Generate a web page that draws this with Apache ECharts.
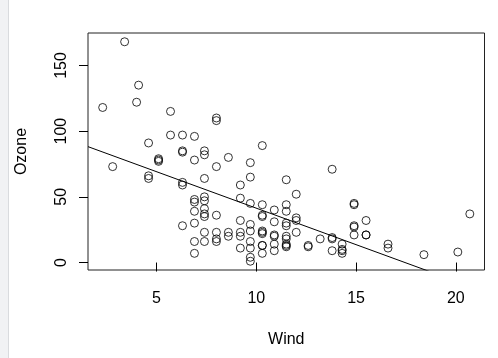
<!DOCTYPE html>
<html>
<head>
<meta charset="utf-8">
<script src="https://cdn.jsdelivr.net/npm/echarts@6/dist/echarts.min.js"></script>
<style>
html,body{margin:0;padding:0;background:#fff;}
#c{width:498px;height:358px;}
</style>
</head>
<body>
<div id="c"></div>
<script>
// airquality: complete Ozone rows, Wind (mph) and Ozone (ppb)
const wind = [7.4,8.0,12.6,11.5,14.9,8.6,13.8,20.1,6.9,9.7,9.2,10.9,13.2,11.5,12.0,18.4,11.5,9.7,9.7,16.6,9.7,12.0,12.0,14.9,5.7,7.4,9.7,13.8,11.5,8.0,14.9,20.7,9.2,11.5,10.3,4.1,9.2,9.2,4.6,10.9,5.1,6.3,5.7,7.4,14.3,14.9,14.3,6.9,10.3,6.3,5.1,11.5,6.9,8.6,8.0,8.6,12.0,7.4,7.4,7.4,9.2,6.9,13.8,7.4,6.9,7.4,4.6,4.0,10.3,8.0,11.5,11.5,9.7,10.3,6.3,7.4,10.9,10.3,15.5,14.3,9.7,3.4,8.0,9.7,2.3,6.3,6.3,6.9,5.1,2.8,4.6,7.4,15.5,10.9,10.3,10.9,9.7,14.9,15.5,6.3,10.9,11.5,6.9,13.8,10.3,10.3,8.0,12.6,9.2,10.3,10.3,16.6,6.9,14.3,8.0,11.5];
const ozone = [41,36,12,18,28,23,19,8,7,16,11,14,18,14,34,6,30,11,1,11,4,32,23,45,115,37,29,71,39,23,21,37,20,12,13,135,49,32,64,40,77,97,97,85,10,27,7,48,35,61,79,63,16,80,108,20,52,82,50,64,59,39,9,16,78,35,66,122,89,110,44,28,65,22,59,23,31,44,21,9,45,168,73,76,118,84,85,96,78,73,91,47,32,20,23,21,24,44,21,28,9,13,46,18,13,24,16,13,23,36,7,14,30,14,18,20];
const xTicks = [5,10,15,20];
const yTicks = [0,50,100,150];
const xTitle = "Wind";
const yTitle = "Ozone";

// R-style axis ranges (data range extended by 4%)
function rRange(a){const mn=Math.min(...a),mx=Math.max(...a),d=(mx-mn)*0.04;return [mn-d,mx+d];}
const xr = rRange(wind), yr = rRange(ozone);

// least squares fit Ozone ~ Wind
const n = wind.length;
const mx = wind.reduce((s,v)=>s+v,0)/n, my = ozone.reduce((s,v)=>s+v,0)/n;
let sxy=0,sxx=0;
for(let i=0;i<n;i++){sxy+=(wind[i]-mx)*(ozone[i]-my);sxx+=(wind[i]-mx)*(wind[i]-mx);}
const slope = sxy/sxx, icpt = my-slope*mx;
const fitLine = [[xr[0], icpt+slope*xr[0]],[xr[1], icpt+slope*xr[1]]];

const pts = wind.map((w,i)=>[w,ozone[i]]);
const font = "'Liberation Sans', Arial, Helvetica, sans-serif";

const chart = echarts.init(document.getElementById('c'), null, {renderer:'canvas'});
chart.setOption({
  animation:false,
  backgroundColor:'#fff',
  graphic:[
    {type:'rect',shape:{x:0,y:0,width:8,height:358},style:{fill:'#f1f2f4'}},
    {type:'rect',shape:{x:8,y:0,width:1,height:358},style:{fill:'#d9dbde'}}
  ],
  grid:{left:88,top:33,right:13.5,bottom:88,show:true,borderColor:'#222',borderWidth:1,backgroundColor:'transparent'},
  xAxis:{
    type:'value',min:xr[0],max:xr[1],
    name:xTitle,nameLocation:'middle',nameGap:62,
    nameTextStyle:{fontFamily:font,fontSize:16,color:'#000'},
    axisLine:{show:false},
    splitLine:{show:false},
    axisTick:{show:true,inside:false,length:9,lineStyle:{color:'#000',width:1},customValues:xTicks},
    axisLabel:{fontFamily:font,fontSize:16,color:'#000',margin:21,customValues:xTicks}
  },
  yAxis:{
    type:'value',min:yr[0],max:yr[1],
    name:yTitle,nameLocation:'middle',nameGap:58,nameRotate:90,
    nameTextStyle:{fontFamily:font,fontSize:16,color:'#000'},
    axisLine:{show:false},
    splitLine:{show:false},
    axisTick:{show:true,inside:false,length:9,lineStyle:{color:'#000',width:1},customValues:yTicks},
    axisLabel:{fontFamily:font,fontSize:16,color:'#000',margin:18,rotate:90,customValues:yTicks}
  },
  series:[
    {type:'scatter',data:pts,symbol:'circle',symbolSize:8,
     itemStyle:{color:'rgba(0,0,0,0)',borderColor:'#000',borderWidth:1},
     emphasis:{disabled:true}},
    {type:'line',data:fitLine,symbol:'none',clip:true,
     lineStyle:{color:'#000',width:1},emphasis:{disabled:true}}
  ]
});
</script>
</body>
</html>
